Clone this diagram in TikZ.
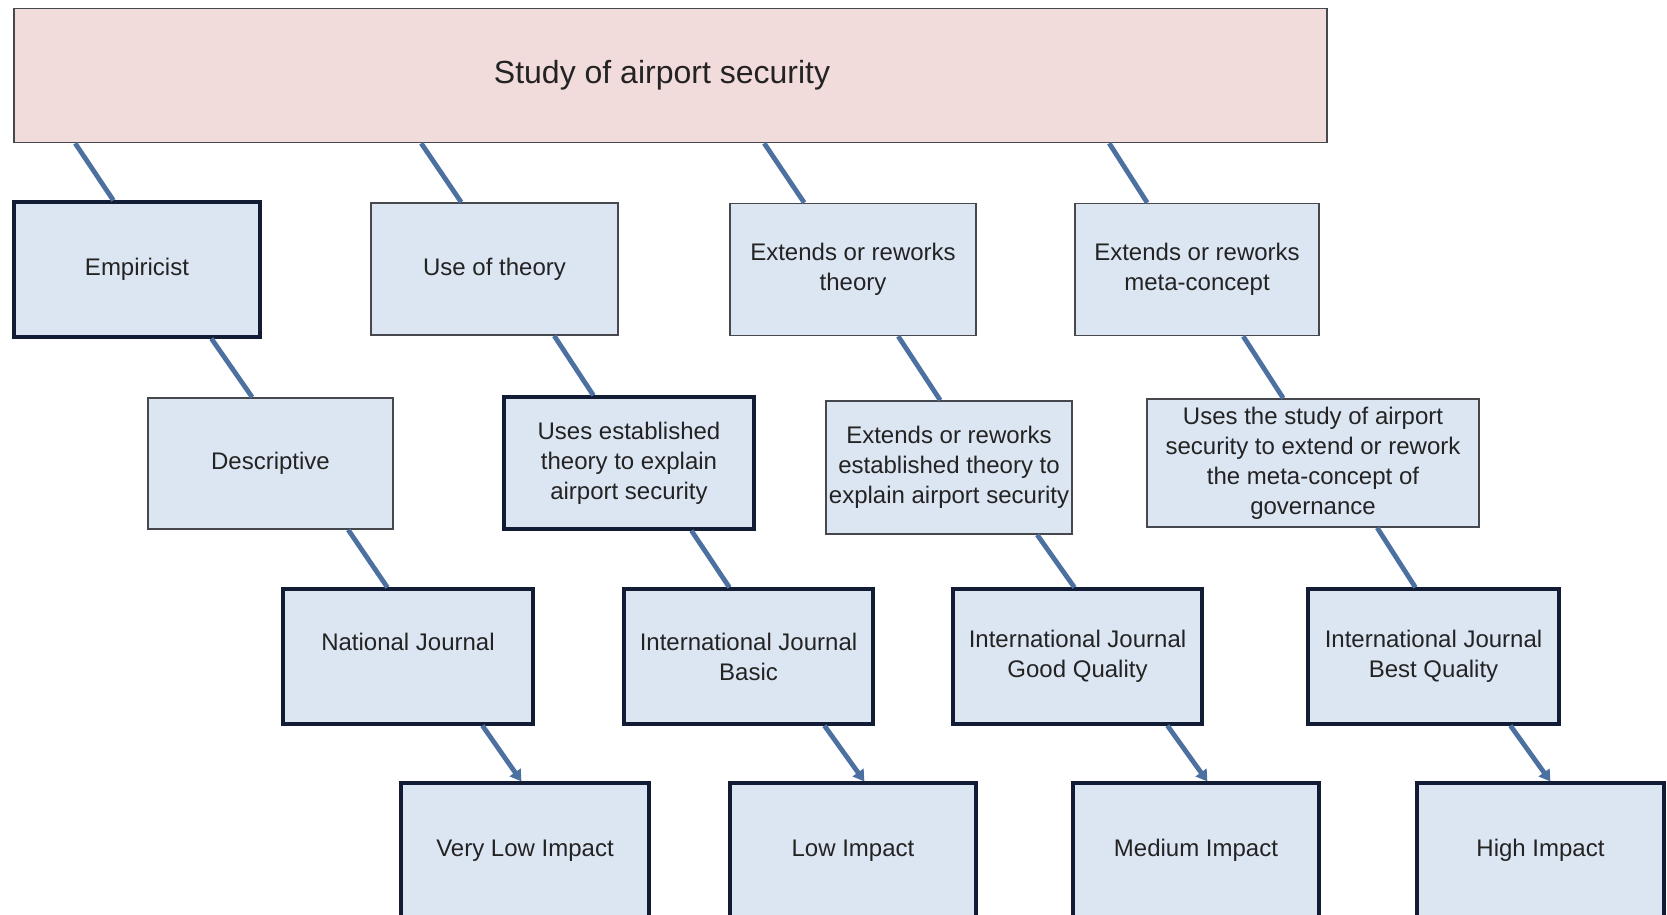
\documentclass[tikz,border=0pt]{standalone}
\usepackage{fontspec}
\setmainfont{Liberation Sans}
\usetikzlibrary{arrows.meta,positioning,calc}
\definecolor{boxblue}{RGB}{220,230,242}
\definecolor{boxpink}{RGB}{242,220,219}
\definecolor{edgenavy}{RGB}{18,28,52}
\definecolor{edgegray}{RGB}{70,72,78}
\definecolor{linkblue}{RGB}{76,112,160}
\definecolor{txtgray}{RGB}{35,35,35}
\tikzset{
  level/.style={draw=edgegray, line width=1.6pt, fill=boxblue, align=center, inner sep=0pt,
    minimum height=132pt, text=txtgray, font=\fontsize{24}{30}\selectfont},
  levelbold/.style={level, draw=edgenavy, line width=3.2pt},
  link/.style={linkblue, line width=4.8pt},
  linkarrow/.style={link, -{Triangle[width=13pt,length=11pt]}}
}
\begin{document}
\begin{tikzpicture}[x=1pt, y=-1pt]
  \useasboundingbox (0,0) rectangle (1667,915);
  \clip (0,0) rectangle (1667,915);
  \fill[white] (0,0) rectangle (1667,915);

  %% Top box
  \node[draw=edgegray, line width=1.6pt, fill=boxpink, minimum width=1313pt, minimum height=134pt,
    text=txtgray, font=\fontsize{32}{38}\selectfont] (study) at (670.5,75.5) {\hspace*{-17pt}Study of airport security};

  %% Row 1: approach
  \node[levelbold, minimum width=246pt, minimum height=135pt] (empir) at (137,269.5) {Empiricist};
  \node[level, minimum width=247pt] (usetheory) at (494.5,269) {Use of theory};
  \node[level, minimum width=246pt] (extheory) at (853,269.5) {Extends or reworks\\theory};
  \node[level, minimum width=244pt] (exmeta) at (1197,269.5) {Extends or reworks\\meta-concept};

  %% Row 2: description
  \node[level, minimum width=245pt, minimum height=131pt] (descr) at (270.5,463.5) {Descriptive};
  \node[levelbold, minimum width=250pt] (usesest) at (629,463) {Uses established\\theory to explain\\airport security};
  \node[level, minimum width=246pt, minimum height=133pt] (exest) at (949,467.5) {Extends or reworks\\established theory to\\explain airport security};
  \node[level, minimum width=332pt, minimum height=128pt] (usesstudy) at (1313,463) {Uses the study of airport\\security to extend or rework\\the meta-concept of\\governance};

  %% Row 3: journal
  \node[levelbold, minimum width=250pt, minimum height=135pt] (natjour) at (408,656.5) {National Journal\\\phantom{Basic}};
  \node[levelbold, minimum width=249pt, minimum height=135pt] (intbasic) at (748.5,656.5) {International Journal\\Basic};
  \node[levelbold, minimum width=249pt, minimum height=135pt] (intgood) at (1077.5,656.5) {International Journal\\Good Quality};
  \node[levelbold, minimum width=251pt, minimum height=135pt] (intbest) at (1433.5,656.5) {International Journal\\Best Quality};

  %% Row 4: impact
  \node[levelbold, minimum width=248pt, minimum height=135pt] (vlow) at (525,850.5) {Very Low Impact};
  \node[levelbold, minimum width=246pt, minimum height=135pt] (low) at (853,850.5) {Low Impact};
  \node[levelbold, minimum width=246pt, minimum height=135pt] (medium) at (1196,850.5) {Medium Impact};
  \node[levelbold, minimum width=247pt, minimum height=135pt] (high) at (1540.5,850.5) {High Impact};

  %% Links top -> row 1
  \draw[link] ([xshift=62pt]study.south west) -- ([xshift=101pt]empir.north west);
  \draw[link] ([xshift=408pt]study.south west) -- ([xshift=91pt]usetheory.north west);
  \draw[link] ([xshift=751pt]study.south west) -- ([xshift=75pt]extheory.north west);
  \draw[link] ([xshift=1096pt]study.south west) -- ([xshift=73pt]exmeta.north west);

  %% Links row 1 -> row 2
  \draw[link] ([xshift=199pt]empir.south west) -- ([xshift=105pt]descr.north west);
  \draw[link] ([xshift=184pt]usetheory.south west) -- ([xshift=91pt]usesest.north west);
  \draw[link] ([xshift=169pt]extheory.south west) -- ([xshift=115pt]exest.north west);
  \draw[link] ([xshift=169pt]exmeta.south west) -- ([xshift=137pt]usesstudy.north west);

  %% Links row 2 -> row 3
  \draw[link] ([xshift=201pt]descr.south west) -- ([xshift=106pt]natjour.north west);
  \draw[link] ([xshift=189pt]usesest.south west) -- ([xshift=107pt]intbasic.north west);
  \draw[link] ([xshift=212pt]exest.south west) -- ([xshift=123pt]intgood.north west);
  \draw[link] ([xshift=231pt]usesstudy.south west) -- ([xshift=109pt]intbest.north west);

  %% Arrows row 3 -> row 4
  \draw[linkarrow] ([xshift=201pt]natjour.south west) -- ([xshift=122pt]vlow.north west);
  \draw[linkarrow] ([xshift=202pt]intbasic.south west) -- ([xshift=136pt]low.north west);
  \draw[linkarrow] ([xshift=216pt]intgood.south west) -- ([xshift=136pt]medium.north west);
  \draw[linkarrow] ([xshift=204pt]intbest.south west) -- ([xshift=135pt]high.north west);
\end{tikzpicture}
\end{document}
